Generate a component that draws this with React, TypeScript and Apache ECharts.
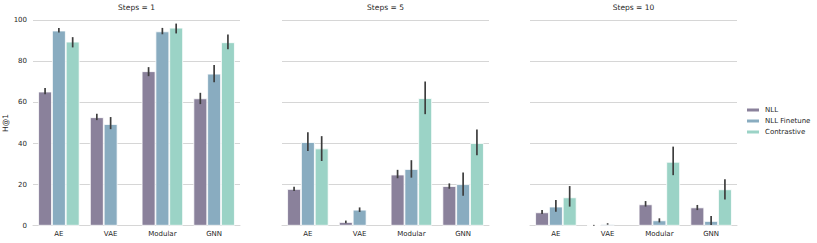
import React, { useEffect, useRef } from "react";
import * as echarts from "echarts";

const categories = ["AE", "VAE", "Modular", "GNN"];
const methods = ["NLL", "NLL Finetune", "Contrastive"];
const panelTitles = ["Steps = 1", "Steps = 5", "Steps = 10"];
const yTicks = [0, 20, 40, 60, 80, 100];

// Steps = 1
const s1Nll = [65.3, 52.8, 75.2, 62.0];
const s1Finetune = [95.0, 49.5, 94.6, 74.0];
const s1Contrastive = [89.6, null, 96.4, 89.3];
const s1NllCi = [[64.0, 67.1], [51.4, 54.5], [72.8, 77.2], [59.2, 64.7]];
const s1FinetuneCi = [[94.0, 96.2], [47.0, 52.9], [93.2, 96.3], [69.9, 78.2]];
const s1ContrastiveCi = [[86.8, 91.8], null, [93.6, 98.4], [85.9, 93.1]];

// Steps = 5
const s5Nll = [17.9, 1.8, 24.9, 19.3];
const s5Finetune = [40.7, 7.8, 27.6, 20.2];
const s5Contrastive = [37.6, null, 62.1, 40.2];
const s5NllCi = [[16.9, 19.0], [1.2, 2.5], [23.1, 27.2], [18.0, 20.6]];
const s5FinetuneCi = [[36.4, 45.5], [6.7, 8.9], [23.4, 31.9], [14.6, 25.9]];
const s5ContrastiveCi = [[31.5, 43.6], null, [54.3, 70.2], [34.3, 46.8]];

// Steps = 10
const s10Nll = [6.5, 0.2, 10.4, 8.9];
const s10Finetune = [9.3, 0.8, 2.6, 2.3];
const s10Contrastive = [13.8, null, 31.1, 17.7];
const s10NllCi = [[5.7, 7.6], [0.0, 0.4], [9.3, 12.0], [7.6, 10.1]];
const s10FinetuneCi = [[6.8, 12.5], [0.5, 1.2], [1.6, 3.6], [0.3, 4.7]];
const s10ContrastiveCi = [[9.3, 19.3], null, [24.6, 38.5], [12.8, 22.6]];

const panels = [
  { values: [s1Nll, s1Finetune, s1Contrastive], ci: [s1NllCi, s1FinetuneCi, s1ContrastiveCi] },
  { values: [s5Nll, s5Finetune, s5Contrastive], ci: [s5NllCi, s5FinetuneCi, s5ContrastiveCi] },
  { values: [s10Nll, s10Finetune, s10Contrastive], ci: [s10NllCi, s10FinetuneCi, s10ContrastiveCi] },
];

const colors = ["#8a819b", "#89acc0", "#9bd3c6"];
const FONT = "DejaVu Sans";
const gridLefts = [33, 282, 530];
const gridWidth = 207;
const gridTop = 20.3;
const gridHeight = 205.4;

export default function App() {
  const ref = useRef<HTMLDivElement>(null);
  useEffect(() => {
    if (!ref.current) return;
    const chart = echarts.init(ref.current, null, { renderer: "svg" });
    const grids: any[] = [];
    const xAxes: any[] = [];
    const yAxes: any[] = [];
    const titles: any[] = [];
    const series: any[] = [];
    panels.forEach((p, pi) => {
      grids.push({ left: gridLefts[pi], top: gridTop, width: gridWidth, height: gridHeight });
      titles.push({
        text: panelTitles[pi],
        left: gridLefts[pi] + gridWidth / 2,
        top: 3,
        padding: 0,
        textAlign: "center",
        textStyle: { fontFamily: FONT, fontSize: 7.5, fontWeight: "normal", color: "#262626" },
      });
      xAxes.push({
        type: "category",
        gridIndex: pi,
        data: categories,
        axisLine: { show: true, lineStyle: { color: "#d6d6d6", width: 1 } },
        axisTick: { show: false },
        axisLabel: { fontFamily: FONT, fontSize: 7, color: "#262626", margin: 5 },
      });
      yAxes.push({
        type: "value",
        gridIndex: pi,
        min: 0,
        max: 100,
        interval: 20,
        name: pi === 0 ? "H@1" : "",
        nameLocation: "middle",
        nameGap: 16,
        nameTextStyle: { fontFamily: FONT, fontSize: 7.5, color: "#262626" },
        axisLine: { show: false },
        axisTick: { show: false },
        splitLine: { show: true, lineStyle: { color: "#d6d6d6", width: 1 } },
        axisLabel: {
          show: pi === 0,
          fontFamily: FONT,
          fontSize: 7,
          color: "#262626",
          margin: 6,
          formatter: (v: number) => (yTicks.includes(v) ? String(v) : ""),
        },
      });
      p.values.forEach((vals, mi) => {
        series.push({
          type: "bar",
          name: methods[mi],
          xAxisIndex: pi,
          yAxisIndex: pi,
          data: vals.map((v) => (v === null ? "-" : v)),
          barGap: "0%",
          barCategoryGap: "20%",
          itemStyle: { color: colors[mi], borderColor: "#ffffff", borderWidth: 0.8 },
          z: 2,
        });
      });
      const errData: any[] = [];
      p.ci.forEach((arr, mi) => {
        arr.forEach((c, ci) => {
          if (c) errData.push([ci, c[0], c[1], mi]);
        });
      });
      series.push({
        type: "custom",
        name: "err" + pi,
        xAxisIndex: pi,
        yAxisIndex: pi,
        encode: { x: 0, y: [1, 2] },
        data: errData,
        z: 5,
        renderItem: (params: any, api: any) => {
          const c = api.value(0);
          const lo = api.value(1);
          const hi = api.value(2);
          const m = api.value(3);
          const p1 = api.coord([c, lo]);
          const p2 = api.coord([c, hi]);
          const bw = api.size([1, 0])[0];
          const off = ((m - 1) * bw * 0.8) / 3;
          return {
            type: "line",
            shape: { x1: p1[0] + off, y1: p1[1], x2: p1[0] + off, y2: p2[1] },
            style: { stroke: "#3d3d3d", lineWidth: 1.7 },
          };
        },
      });
    });
    chart.setOption({
      animation: false,
      backgroundColor: "#ffffff",
      title: titles,
      grid: grids,
      xAxis: xAxes,
      yAxis: yAxes,
      legend: {
        data: methods,
        orient: "vertical",
        left: 745,
        top: 106,
        padding: 0,
        icon: "rect",
        itemWidth: 14,
        itemHeight: 5,
        itemGap: 3,
        textStyle: { fontFamily: FONT, fontSize: 7, color: "#262626", lineHeight: 8 },
      },
      series,
    });
    return () => chart.dispose();
  }, []);
  return (
    <div
      ref={ref}
      style={{ position: "fixed", left: 0, top: 0, width: 817, height: 243 }}
    />
  );
}
